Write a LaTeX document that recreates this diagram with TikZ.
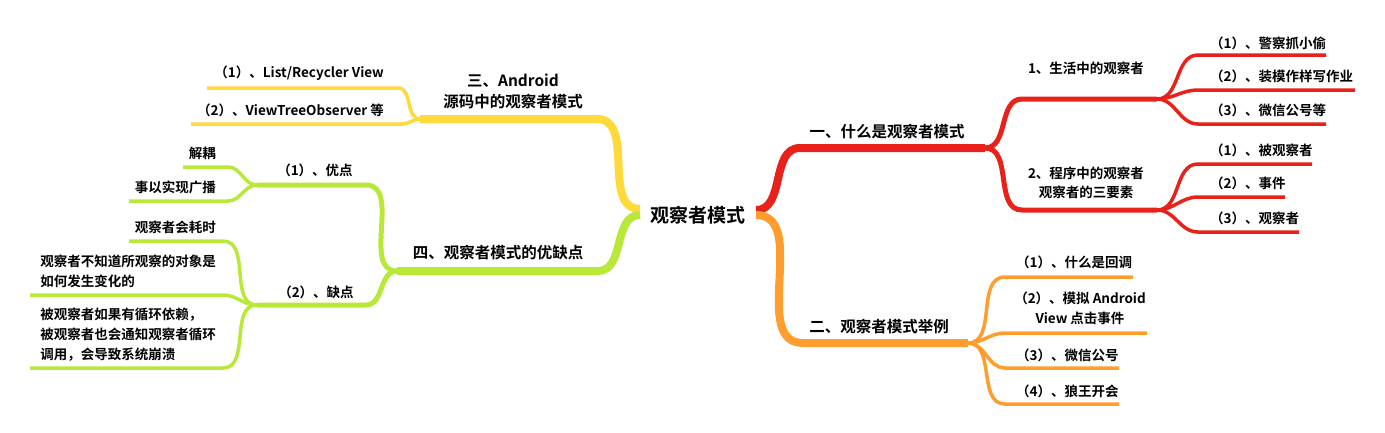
\documentclass[tikz,border=0pt]{standalone}
\usepackage{fontspec}
\setmainfont{Noto Sans CJK SC}[UprightFont={* Bold},BoldFont={* Black}]
\definecolor{mred}{RGB}{232,33,26}
\definecolor{morange}{RGB}{255,158,46}
\definecolor{myellow}{RGB}{255,218,58}
\definecolor{mgreen}{RGB}{184,232,56}
\begin{document}
\begin{tikzpicture}[x=1pt,y=-1pt,
  lbl/.style={inner sep=0pt,font=\fontsize{13.5}{20}\selectfont},
  mainlbl/.style={inner sep=0pt,font=\fontsize{15.5}{21}\selectfont},
  mainw/.style={line width=8pt,line cap=butt},
  subw/.style={line width=5pt,line cap=butt},
  leafw/.style={line width=3.5pt,line cap=butt}]
\useasboundingbox (0,0) rectangle (1385,432);
\node[inner sep=0pt,font=\fontsize{19}{22}\selectfont] (root) at (698,215) {观察者模式};
% start points
\coordinate (sR) at (756,210);
\coordinate (sO) at (756,215);
\coordinate (sY) at (640,209);
\coordinate (sG) at (640,215);
% red
\coordinate (a1s) at (800,148); \coordinate (J1) at (985,148);
\coordinate (b1s) at (1022,99); \coordinate (J11) at (1157,99);
\coordinate (b2s) at (1022,210); \coordinate (J12) at (1157,210);
\coordinate (l1s) at (1198,55); \coordinate (l1e) at (1326,55);
\coordinate (l2s) at (1198,90); \coordinate (l2e) at (1355,90);
\coordinate (l3s) at (1198,124); \coordinate (l3e) at (1326,124);
\coordinate (l4s) at (1198,164); \coordinate (l4e) at (1312,164);
\coordinate (l5s) at (1198,197); \coordinate (l5e) at (1285,197);
\coordinate (l6s) at (1198,232); \coordinate (l6e) at (1299,232);
\draw[mred,mainw] (sR) to[out=0,in=180] (a1s) -- (J1);
\draw[mred,subw] (J1) to[out=0,in=180] (b1s) -- (J11);
\draw[mred,subw] (J1) to[out=0,in=180] (b2s) -- (J12);
\foreach \i in {1,2,3} \draw[mred,leafw] (J11) to[out=0,in=180] (l\i s) -- (l\i e);
\foreach \i in {4,5,6} \draw[mred,leafw] (J12) to[out=0,in=180] (l\i s) -- (l\i e);
% orange
\coordinate (a2s) at (803,343); \coordinate (J2) at (968,343);
\coordinate (o1s) at (1005,277); \coordinate (o1e) at (1133,277);
\coordinate (o2s) at (1005,333); \coordinate (o2e) at (1147,333);
\coordinate (o3s) at (1005,368); \coordinate (o3e) at (1119,368);
\coordinate (o4s) at (1005,404); \coordinate (o4e) at (1119,404);
\draw[morange,mainw] (sO) to[out=0,in=180] (a2s) -- (J2);
\foreach \i in {1,2,3,4} \draw[morange,leafw] (J2) to[out=0,in=180] (o\i s) -- (o\i e);
% yellow
\coordinate (a3s) at (597,119); \coordinate (J3) at (420,119);
\coordinate (y1s) at (398,88); \coordinate (y1e) at (207,88);
\coordinate (y2s) at (402,124); \coordinate (y2e) at (191,124);
\draw[myellow,mainw] (sY) to[out=180,in=0] (a3s) -- (J3);
\foreach \i in {1,2} \draw[myellow,leafw] (J3) to[out=180,in=0] (y\i s) -- (y\i e);
% green
\coordinate (a4s) at (598,271); \coordinate (J4) at (397,271);
\coordinate (c1s) at (366,185); \coordinate (J41) at (257,185);
\coordinate (c2s) at (366,305); \coordinate (J42) at (257,305);
\coordinate (g1s) at (228,167); \coordinate (g1e) at (183,167);
\coordinate (g2s) at (228,201); \coordinate (g2e) at (129,201);
\coordinate (g3s) at (223,241); \coordinate (g3e) at (129,241);
\coordinate (g4s) at (223,295); \coordinate (g4e) at (30,295);
\coordinate (g5s) at (223,368); \coordinate (g5e) at (30,368);
\draw[mgreen,mainw] (sG) to[out=180,in=0] (a4s) -- (J4);
\draw[mgreen,subw] (J4) to[out=180,in=0] (c1s) -- (J41);
\draw[mgreen,subw] (J4) to[out=180,in=0] (c2s) -- (J42);
\foreach \i in {1,2} \draw[mgreen,leafw] (J41) to[out=180,in=0] (g\i s) -- (g\i e);
\foreach \i in {3,4,5} \draw[mgreen,leafw] (J42) to[out=180,in=0] (g\i s) -- (g\i e);
% labels
\node[mainlbl] (a1) at (887,132) {一、什么是观察者模式};
\node[mainlbl] (a2) at (879,327) {二、观察者模式举例};
\node[mainlbl,align=center] (a3) at (513,91) {三、Android\\源码中的观察者模式};
\node[mainlbl] (a4) at (498,253) {四、观察者模式的优缺点};
\node[lbl] (b1) at (1086,68) {1、生活中的观察者};
\node[lbl,align=center,font=\fontsize{13.5}{19}\selectfont] (b2) at (1086,183) {2、程序中的观察者\\观察者的三要素};
\node[lbl,anchor=west] (t1) at (1210,43) {（1）、警察抓小偷};
\node[lbl,anchor=west] (t2) at (1210,76) {（2）、装模作样写作业};
\node[lbl,anchor=west] (t3) at (1210,110) {（3）、微信公号等};
\node[lbl,anchor=west] (t4) at (1210,150) {（1）、被观察者};
\node[lbl,anchor=west] (t5) at (1210,183) {（2）、事件};
\node[lbl,anchor=west] (t6) at (1210,218) {（3）、观察者};
\node[lbl,anchor=west] (u1) at (1016,262) {（1）、什么是回调};
\node[lbl,align=center] (u2) at (1080,308) {（2）、模拟 Android\\View 点击事件};
\node[lbl,anchor=west] (u3) at (1016,355) {（3）、微信公号};
\node[lbl,anchor=west] (u4) at (1016,391) {（4）、狼王开会};
\node[lbl,anchor=east] (v1) at (384,73) {（1）、List/Recycler View};
\node[lbl,anchor=east] (v2) at (384,110) {（2）、ViewTreeObserver 等};
\node[lbl] (c1) at (315,170) {（1）、优点};
\node[lbl] (c2) at (316,292) {（2）、缺点};
\node[lbl,anchor=east] (w1) at (216,153) {解耦};
\node[lbl,anchor=east] (w2) at (216,187) {事以实现广播};
\node[lbl,anchor=east] (w3) at (216,227) {观察者会耗时};
\node[lbl,anchor=east,align=left] (w4) at (216,271.5) {观察者不知道所观察的对象是\\如何发生变化的};
\node[lbl,anchor=east,align=left] (w5) at (216,335) {被观察者如果有循环依赖，\\被观察者也会通知观察者循环\\调用，会导致系统崩溃};
\end{tikzpicture}
\end{document}
